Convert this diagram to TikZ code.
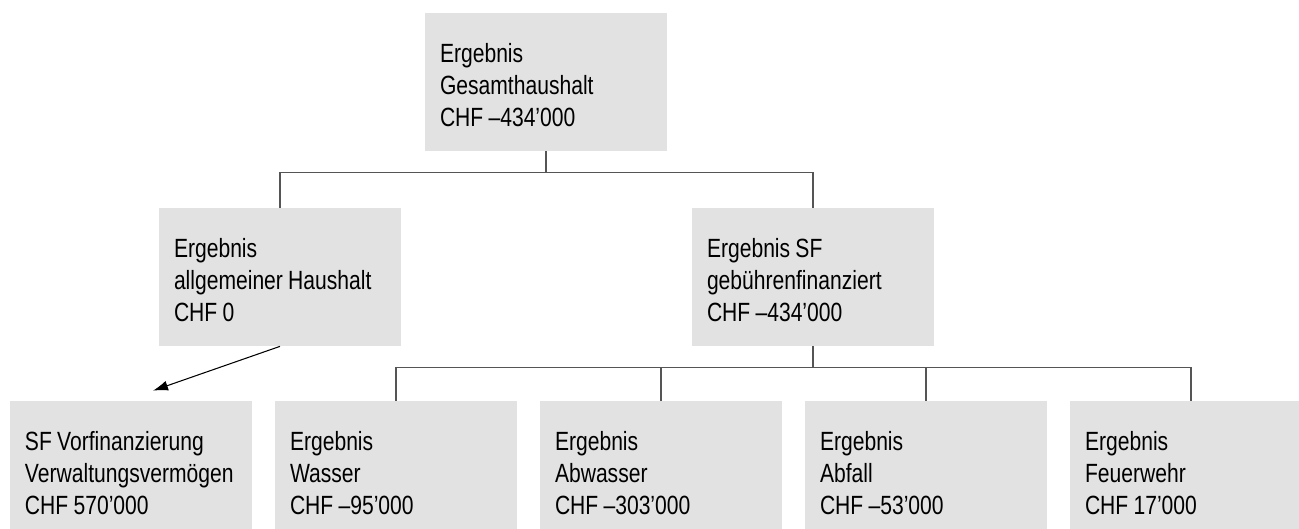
\documentclass[tikz,border=0pt]{standalone}
\usepackage{fontspec}
\setmainfont{Liberation Sans}[FakeStretch=0.8]
\usetikzlibrary{arrows.meta,positioning}

\definecolor{boxgray}{HTML}{E2E2E2}
\definecolor{linegray}{HTML}{555555}

\begin{document}
\begin{tikzpicture}

		\tikzstyle{res}=[rectangle, fill=boxgray, text=black, align=left, inner xsep=0.3cm, text width=4.24cm, minimum width=4.84cm, minimum height=2.76cm, font=\fontsize{15pt}{18.2pt}\selectfont, execute at begin node={\spaceskip=0.2em\relax\rule{0pt}{0.95em}}]
		\tikzstyle{tree}=[linegray, line width=0.6pt]

		\clip (0,0) rectangle (25.98,-10.56);

		% Gesamthaushalt
		\node[res] (ges) at (10.92,-1.64) {Ergebnis\\Gesamthaushalt\\CHF –434’000};

		\node[res] (allg) at (5.6,-5.54)   {Ergebnis\\allgemeiner Haushalt\\CHF 0};
		\node[res] (gebf) at (16.26,-5.54) {Ergebnis SF\\gebührenfinanziert\\CHF –434’000};

		\node[res] (vorf) at (2.62,-9.4)  {SF Vorfinanzierung\\Verwaltungsvermögen\\CHF 570’000};
		\node[res] (wass) at (7.92,-9.4)  {Ergebnis\\Wasser\\CHF –95’000};
		\node[res] (abw)  at (13.22,-9.4) {Ergebnis\\Abwasser\\CHF –303’000};
		\node[res] (abf)  at (18.52,-9.4) {Ergebnis\\Abfall\\CHF –53’000};
		\node[res] (feu)  at (23.82,-9.4) {Ergebnis\\Feuerwehr\\CHF 17’000};

		% first level
		\draw[tree] (ges.south) -- ++(0,-0.42) coordinate (j1);
		\draw[tree] (allg.north) |- (j1) -| (gebf.north);

		% SF gebuehrenfinanziert
		\draw[tree] (gebf.south) -- ++(0,-0.42) coordinate (j2);
		\draw[tree] (wass.north) |- (j2) -| (feu.north);
		\draw[tree] (abw.north) -- (abw.north |- j2);
		\draw[tree] (abf.north) -- (abf.north |- j2);

		\draw[-{Latex[length=3mm,width=2mm]}, black, line width=0.6pt] (allg.south) -- ([shift={(0.44,0.2)}]vorf.north);

\end{tikzpicture}
\end{document}
